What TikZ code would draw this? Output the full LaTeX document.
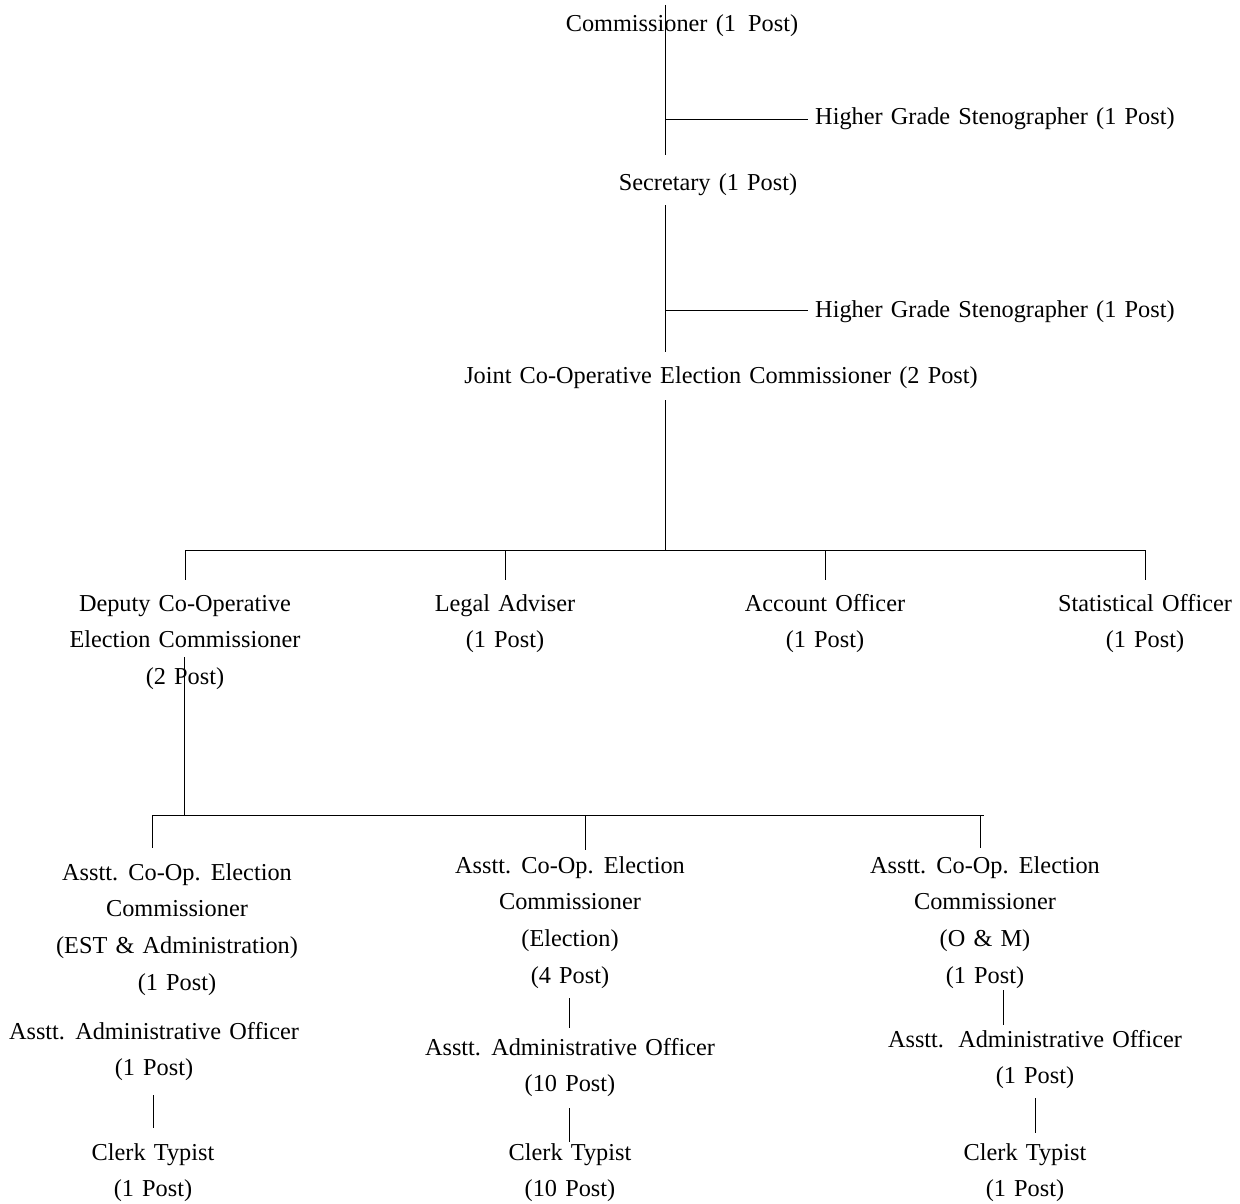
\documentclass[tikz,border=0pt]{standalone}
\usepackage{fontspec}
\setmainfont{Liberation Serif}[WordSpace=1.35]
\newcommand{\st}{\rule{0pt}{18pt}}
\newcommand{\xs}{\hspace{4pt}}
\begin{document}
\begin{tikzpicture}[x=1pt,y=-1pt,
  lbl/.style={inner sep=0pt, anchor=north, align=center, font=\fontsize{24.3}{36.7}\selectfont},
  lblw/.style={lbl, anchor=north west, align=left},
  conn/.style={line width=1pt, black}]
\useasboundingbox[fill=white] (0,0) rectangle (1240,1204);
% texts (node y = baseline - 18)
\node[lbl]  (com) at (682,13)  {\st Commissioner (1\xs{} Post)};
\node[lblw] (st1) at (815,106) {\st Higher Grade Stenographer (1 Post)};
\node[lbl]  (sec) at (708,172) {\st Secretary (1 Post)};
\node[lblw] (st2) at (815,299) {\st Higher Grade Stenographer (1 Post)};
\node[lbl]  (jnt) at (721,365) {\st Joint Co-Operative Election Commissioner (2 Post)};
\node[lbl]  (dep) at (185,593) {\st Deputy Co-Operative\\Election Commissioner\\(2 Post)};
\node[lbl]  (leg) at (505,593) {\st Legal Adviser\\(1 Post)};
\node[lbl]  (acc) at (825,593) {\st Account Officer\\(1 Post)};
\node[lbl]  (sta) at (1145,593) {\st Statistical Officer\\(1 Post)};
\node[lbl]  (a1) at (177,862) {\st Asstt. Co-Op. Election\\Commissioner\\(EST \& Administration)\\(1 Post)};
\node[lbl]  (b1) at (154,1021) {\st Asstt. Administrative Officer\\(1 Post)};
\node[lbl]  (c1) at (153,1142) {\st Clerk Typist\\(1 Post)};
\node[lbl]  (a2) at (570,855) {\st Asstt. Co-Op. Election\\Commissioner\\(Election)\\(4 Post)};
\node[lbl]  (b2) at (570,1037) {\st Asstt. Administrative Officer\\(10 Post)};
\node[lbl]  (c2) at (570,1142) {\st Clerk Typist\\(10 Post)};
\node[lbl]  (a3) at (985,855) {\st Asstt. Co-Op. Election\\Commissioner\\(O \& M)\\(1 Post)};
\node[lbl]  (b3) at (1035,1029) {\st Asstt.\xs{} Administrative Officer\\(1 Post)};
\node[lbl]  (c3) at (1025,1142) {\st Clerk Typist\\(1 Post)};
% junction coordinates
\coordinate (t0) at (665,5);
\coordinate (j1) at (665,120);
\coordinate (e1) at (665,155);
\coordinate (s1) at (808,120);
\coordinate (t2) at (665,205);
\coordinate (j2) at (665,310);
\coordinate (e2) at (665,352);
\coordinate (s2) at (808,310);
\coordinate (t3) at (665,400);
\coordinate (j3) at (665,550);
\coordinate (hL) at (185,550);
\coordinate (hR) at (1145,550);
\coordinate (dL) at (505,550);
\coordinate (dA) at (825,550);
\coordinate (pD) at (185,580);
\coordinate (pL) at (505,580);
\coordinate (pA) at (825,580);
\coordinate (pS) at (1145,580);
\coordinate (u0) at (184,657);
\coordinate (u1) at (184,815);
\coordinate (gL) at (152,815);
\coordinate (gM) at (585,815);
\coordinate (gR) at (984,815);
\coordinate (gR2) at (980,815);
\coordinate (q1) at (152,848);
\coordinate (q2) at (585,850);
\coordinate (q3) at (980,848);
\coordinate (m1) at (569,998);
\coordinate (m2) at (569,1028);
\coordinate (m3) at (569,1108);
\coordinate (m4) at (569,1142);
\coordinate (r1) at (1003,990);
\coordinate (r2) at (1003,1025);
\coordinate (r3) at (1035,1098);
\coordinate (r4) at (1035,1133);
\coordinate (l1) at (153,1095);
\coordinate (l2) at (153,1128);
% connectors
\draw[conn] (t0) -- (e1);
\draw[conn] (j1) -- (s1);
\draw[conn] (t2) -- (e2);
\draw[conn] (j2) -- (s2);
\draw[conn] (t3) -- (j3);
\draw[conn] (hL) -- (hR);
\draw[conn] (hL) -- (pD);
\draw[conn] (dL) -- (pL);
\draw[conn] (dA) -- (pA);
\draw[conn] (hR) -- (pS);
\draw[conn] (u0) -- (u1);
\draw[conn] (gL) -- (gR);
\draw[conn] (gL) -- (q1);
\draw[conn] (gM) -- (q2);
\draw[conn] (gR2) -- (q3);
\draw[conn] (m1) -- (m2);
\draw[conn] (m3) -- (m4);
\draw[conn] (r1) -- (r2);
\draw[conn] (r3) -- (r4);
\draw[conn] (l1) -- (l2);
\end{tikzpicture}
\end{document}
